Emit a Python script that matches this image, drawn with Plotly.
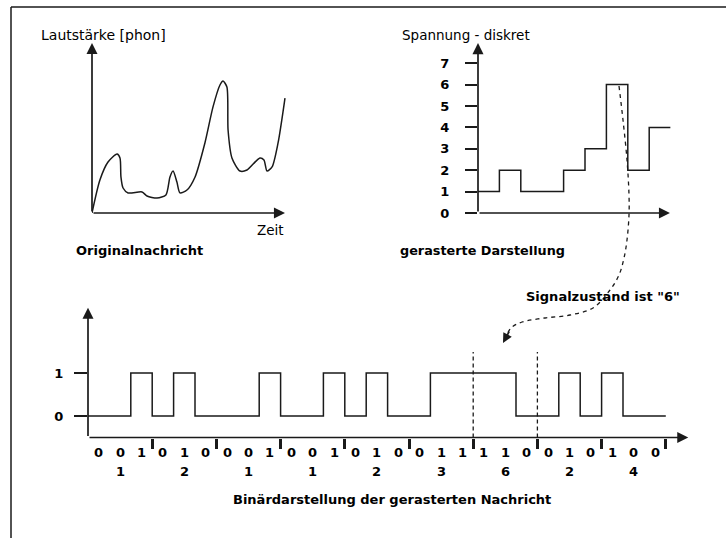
import plotly.graph_objects as go

W, H = 726, 538
INK = "#1a1a1a"
FONT = "DejaVu Sans"

# ---------------- data ----------------
# original message: loudness over time (arbitrary units)
orig_time = [0, 0.41, 0.83, 1.30, 1.45, 1.50, 1.61, 1.87, 2.59, 2.85, 3.37, 3.83, 4.04, 4.20,
             4.40, 4.56, 4.92, 5.34, 5.85, 6.27, 6.63, 6.79, 6.99, 7.05, 7.25, 7.67, 8.03,
             8.70, 8.91, 9.07, 9.33, 9.64, 10.0]
orig_loudness = [0, 1.94, 3.0, 3.47, 3.24, 2.12, 1.47, 1.18, 1.24, 1.0, 0.88, 1.06, 2.12, 2.47,
                 1.82, 1.18, 1.35, 2.12, 4.12, 6.24, 7.53, 7.76, 7.41, 4.88, 3.24, 2.47, 2.53,
                 3.24, 3.12, 2.47, 2.71, 4.12, 6.76]

# discrete (rastered) levels per sample
levels = [1, 2, 1, 1, 2, 3, 6, 2, 4]
level_ticks = [0, 1, 2, 3, 4, 5, 6, 7]
binary_ticks = [0, 1]
highlight_value = 6          # the sample pointed at ("Signalzustand ist "6"")
bits_per_sample = 3

# connector ("Signalzustand ist 6") path, in figure pixel units
pointer_x = [619, 623, 627, 629, 629, 627, 624, 619, 610, 593, 570, 545, 522, 511, 506]
pointer_y = [86, 120, 160, 195, 215, 240, 258, 275, 290, 308, 315, 318, 322, 328, 337]

# ---------------- derived ----------------
bits = [int(b) for v in levels for b in format(v, "0%db" % bits_per_sample)]
nbits = len(bits)
hi_idx = levels.index(highlight_value)

# ---------------- geometry (pixel anchor of range start, px per unit) ----------------
G = {
    1: dict(px0=92, sx=19.3, xr=[0, 10.05], py0=213, sy=17.0, yr=[0, 10.05]),
    2: dict(px0=478, sx=21.4, xr=[0, 9.0], py0=213, sy=21.4, yr=[0, 8.0]),
    3: dict(px0=88, sx=21.4, xr=[0, 28.1], py0=416 + 0.5 * 43, sy=43.0, yr=[-0.5, 2.55]),
}

def dom(g):
    xd = [g["px0"] / W, (g["px0"] + (g["xr"][1] - g["xr"][0]) * g["sx"]) / W]
    yb = g["py0"]
    yt = g["py0"] - (g["yr"][1] - g["yr"][0]) * g["sy"]
    yd = [1 - yb / H, 1 - yt / H]
    return xd, yd

def paper(k, x, y):
    g = G[k]
    px = g["px0"] + (x - g["xr"][0]) * g["sx"]
    py = g["py0"] - (y - g["yr"][0]) * g["sy"]
    return px / W, 1 - py / H

fig = go.Figure()

fig.add_trace(go.Scatter(x=orig_time, y=orig_loudness, mode="lines",
                         line=dict(color=INK, width=1.5, shape="spline", smoothing=0.7),
                         xaxis="x", yaxis="y", hoverinfo="skip"))

fig.add_trace(go.Scatter(x=list(range(len(levels) + 1)), y=levels + [levels[-1]], mode="lines",
                         line=dict(color=INK, width=1.5, shape="hv"),
                         xaxis="x2", yaxis="y2", hoverinfo="skip"))

fig.add_trace(go.Scatter(x=list(range(nbits + 1)), y=bits + [bits[-1]], mode="lines",
                         line=dict(color=INK, width=1.5, shape="hv"),
                         xaxis="x3", yaxis="y3", hoverinfo="skip"))

g0, g1 = hi_idx * bits_per_sample, (hi_idx + 1) * bits_per_sample
fig.add_trace(go.Scatter(x=[g0, g0, None, g1, g1], y=[-0.5, 1.49, None, -0.5, 1.49], mode="lines",
                         line=dict(color=INK, width=1.3, dash="4px,3px"),
                         xaxis="x3", yaxis="y3", hoverinfo="skip"))

fig.add_trace(go.Scatter(x=pointer_x, y=pointer_y, mode="lines",
                         line=dict(color=INK, width=1.3, dash="4px,4px", shape="spline"),
                         xaxis="x4", yaxis="y4", hoverinfo="skip"))

hidden = dict(showgrid=False, zeroline=False, showticklabels=False, ticks="", showline=False,
              automargin=False)
d1, d2, d3 = dom(G[1]), dom(G[2]), dom(G[3])

fig.update_layout(
    width=W, height=H, margin=dict(l=0, r=0, t=0, b=0, autoexpand=False),
    paper_bgcolor="white", plot_bgcolor="rgba(0,0,0,0)", showlegend=False,
    font=dict(family=FONT, color="black"),
    xaxis=dict(domain=d1[0], range=G[1]["xr"], anchor="y", **hidden),
    yaxis=dict(domain=d1[1], range=G[1]["yr"], anchor="x", **hidden),
    xaxis2=dict(domain=d2[0], range=G[2]["xr"], anchor="y2", **hidden),
    yaxis2=dict(domain=d2[1], range=G[2]["yr"], anchor="x2", automargin=False,
                showgrid=False, zeroline=False, showline=False,
                tickvals=level_ticks, ticks="outside", ticklen=12, tickwidth=1.5, tickcolor=INK,
                ticklabelstandoff=13,
                tickfont=dict(family=FONT, size=13, color="black", weight="bold")),
    xaxis3=dict(domain=d3[0], range=G[3]["xr"], anchor="y3", automargin=False,
                showgrid=False, zeroline=False, showline=False, showticklabels=False,
                tickvals=list(range(bits_per_sample, nbits + 1, bits_per_sample)),
                ticks="outside", ticklen=10, tickwidth=2.5, tickcolor=INK),
    yaxis3=dict(domain=d3[1], range=G[3]["yr"], anchor="x3", automargin=False,
                showgrid=False, zeroline=False, showline=False,
                tickvals=binary_ticks, ticks="outside", ticklen=13, tickwidth=1.5, tickcolor=INK,
                ticklabelstandoff=8,
                tickfont=dict(family=FONT, size=13, color="black", weight="bold")),
    xaxis4=dict(domain=[0, 1], range=[0, W], anchor="y4", visible=False, automargin=False),
    yaxis4=dict(domain=[0, 1], range=[H, 0], anchor="x4", visible=False, automargin=False),
)

# frame (cropped page border)
fig.add_shape(type="line", xref="paper", yref="paper", x0=11 / W, x1=1, y0=1 - 7 / H, y1=1 - 7 / H,
              line=dict(color=INK, width=1.5))
fig.add_shape(type="line", xref="paper", yref="paper", x0=11 / W, x1=11 / W, y0=0, y1=1 - 7 / H,
              line=dict(color=INK, width=1.5))

def axis_arrow(xr, yr, x0, y0, x1, y1):
    fig.add_annotation(xref=xr, yref=yr, axref=xr, ayref=yr, x=x1, y=y1, ax=x0, ay=y0,
                       text="", showarrow=True, arrowhead=2, arrowsize=1.3, arrowwidth=1.7,
                       arrowcolor=INK, standoff=0)

axis_arrow("x", "y", 0, 0, 0, 10)
axis_arrow("x", "y", 0, 0, 10, 0)
axis_arrow("x2", "y2", 0, 0, 0, 7.94)
axis_arrow("x2", "y2", 0, 0, 8.97, 0)
axis_arrow("x3", "y3", 0, -0.5, 0, 2.52)
axis_arrow("x3", "y3", 0, -0.5, 28.05, -0.5)

fig.add_annotation(xref="x4", yref="y4", x=503, y=343, ax=7, ay=-13,
                   text="", showarrow=True, arrowhead=2, arrowsize=1.2, arrowwidth=1.6,
                   arrowcolor=INK, standoff=0)

def label(k, x, y, text, bold=False, size=13.5):
    xp, yp = paper(k, x, y)
    fig.add_annotation(xref="paper", yref="paper", x=xp, y=yp,
                       text=("<b>%s</b>" % text) if bold else text, showarrow=False,
                       xanchor="center", yanchor="middle",
                       font=dict(family=FONT, size=size, color="black"))

label(1, 0.62, 10.47, "Lautstärke [phon]", size=14)
label(1, 9.27, -1.0, "Zeit")
label(1, 2.44, -2.18, "Originalnachricht", bold=True, size=13)
label(2, -0.56, 8.32, "Spannung - diskret")
label(2, 0.23, -1.73, "gerasterte Darstellung", bold=True, size=12.8)
label(3, 24.07, 2.79, "Signalzustand ist \"6\"", bold=True, size=13)
label(3, 14.2, -1.95, "Binärdarstellung der gerasterten Nachricht", bold=True, size=13)

for k, b in enumerate(bits):
    label(3, k + 0.5, -0.84, str(b), bold=True, size=13)
for i, v in enumerate(levels):
    label(3, i * bits_per_sample + 1.5, -1.30, str(v), bold=True, size=13)

fig.write_html("out.html", post_script="document.body.style.margin='0';",
               config={"displayModeBar": False})
